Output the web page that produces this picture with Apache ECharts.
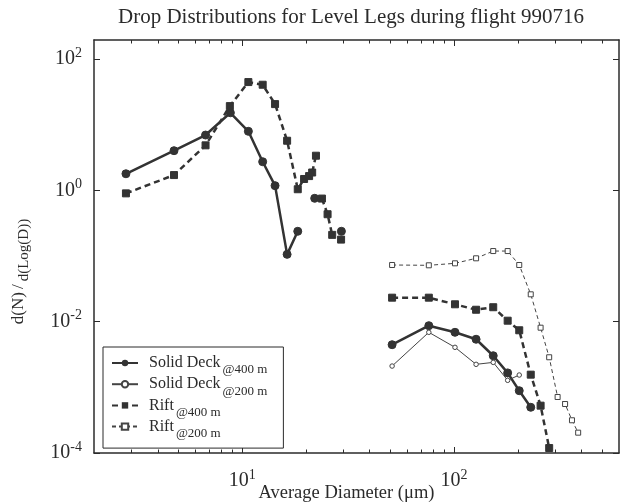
<!DOCTYPE html>
<html><head><meta charset="utf-8">
<script src="https://cdn.jsdelivr.net/npm/echarts@6/dist/echarts.min.js"></script>
<style>html,body{margin:0;padding:0;background:#fff}#c{width:621px;height:502px}</style>
</head><body><div id="c"></div>
<script>
// ---- data (null = gap in the line) ----
const sd400X = [2.83,4.77,6.72,8.80,10.7,12.5,14.3,16.3,18.3,20,22.0,26,29.4,40,51,76,101,127,153,179,203,230];
const sd400Y = [1.79,4.02,6.96,15.2,7.93,2.73,1.18,0.106,0.238,null,0.757,null,0.238,null,0.00446,0.00869,0.00689,0.00540,0.00303,0.00166,0.000889,0.000497];
const sd200X = [51,76,101,127,153,179,203];
const sd200Y = [0.00211,0.00689,0.00407,0.00224,0.00240,0.00128,0.00154];
const rf400X = [2.83,4.77,6.72,8.75,10.7,12.5,14.3,16.3,18.3,19.6,20.7,21.4,22.3,23,23.8,25.3,26.6,28,29.3,40,51,76,101,127,153,179,203,230,256,281];
const rf400Y = [0.90,1.71,4.85,19.2,44.6,40.6,20.6,5.70,1.04,1.49,1.65,1.87,3.37,null,0.75,0.433,0.210,null,0.178,null,0.0232,0.0232,0.0184,0.0152,0.0166,0.01035,0.0074,0.00156,0.000526,0.000119];
const rf200X = [51,76,101,127,153,179,203,230,256,281,308,334,360,385];
const rf200Y = [0.0730,0.0722,0.0774,0.0923,0.119,0.119,0.0730,0.0261,0.00810,0.00287,0.000713,0.000557,0.000315,0.000204];
const seriesNames = ['Solid Deck@400 m','Solid Deck@200 m','Rift@400 m','Rift@200 m'];
const xMajorTicks = [10,100];
const xMinorTicks = [3,4,5,6,7,8,9,20,30,40,50,60,70,80,90,200,300,400,500];
const yMajorTicks = [1e-4,1e-2,1,100];
const titleText = 'Drop Distributions for Level Legs during flight 990716';
const xName = 'Average Diameter (\u03bcm)';

const pair = (xs, ys) => xs.map((x, i) => [x, ys[i] === null ? '-' : ys[i]]);
const FONT = '"Liberation Serif","Times New Roman",serif';
const INK = '#2b2b2b';

const chart = echarts.init(document.getElementById('c'), null, {renderer: 'canvas'});
const supFmt = v => '{b|10}{s|' + Math.round(Math.log10(v)) + '}';
const baseX = {type: 'log', logBase: 10, min: 2, max: 600, gridIndex: 0,
  splitLine: {show: false}, minorTick: {show: false}};
const baseY = {type: 'log', logBase: 10, min: 1e-4, max: 195, gridIndex: 0,
  splitLine: {show: false}, minorTick: {show: false}};

chart.setOption({
  animation: false,
  backgroundColor: '#fff',
  title: {text: titleText, left: 113, top: 2,
    textStyle: {fontFamily: FONT, fontSize: 21, fontWeight: 'normal', color: INK}},
  grid: {left: 94, top: 40, width: 525, height: 413, containLabel: false, outerBoundsMode: 'none'},
  legend: {
    orient: 'vertical', left: 103, top: 347, itemWidth: 26, itemHeight: 8, itemGap: -0.3,
    padding: [8, 16, 8, 8], borderColor: INK, borderWidth: 1, backgroundColor: '#fff',
    data: seriesNames,
    formatter: n => { const i = n.indexOf('@'); return '{a|' + n.slice(0, i) + '}{s|' + n.slice(i) + '}'; },
    textStyle: {fontFamily: FONT, color: INK,
      rich: {a: {fontFamily: FONT, fontSize: 16, color: INK, padding: [0, 0, 0, 6]},
             s: {fontFamily: FONT, fontSize: 13, color: INK, padding: [14, 0, 0, 2]}}}
  },
  xAxis: [
    Object.assign({}, baseX, {position: 'bottom',
      name: xName, nameLocation: 'middle', nameGap: 31, nameMoveOverlap: false,
      nameTextStyle: {fontFamily: FONT, fontSize: 18.5, color: INK, padding: [0, 20, 0, 0]},
      axisLine: {show: true, lineStyle: {color: INK, width: 1.5}},
      axisTick: {show: true, inside: true, length: 6, customValues: xMajorTicks, lineStyle: {color: INK}},
      axisLabel: {show: true, customValues: xMajorTicks, margin: 15, formatter: supFmt,
        rich: {b: {fontFamily: FONT, fontSize: 20, color: INK}, s: {fontFamily: FONT, fontSize: 14, color: INK, padding: [0, 0, 12, 0]}}}}),
    Object.assign({}, baseX, {position: 'bottom',
      axisLine: {show: false}, axisLabel: {show: false},
      axisTick: {show: true, inside: true, length: 3.5, customValues: xMinorTicks, lineStyle: {color: INK}}}),
    Object.assign({}, baseX, {position: 'top',
      axisLine: {show: true, lineStyle: {color: INK, width: 1.5}}, axisLabel: {show: false},
      axisTick: {show: true, inside: true, length: 6, customValues: xMajorTicks, lineStyle: {color: INK}}}),
    Object.assign({}, baseX, {position: 'top',
      axisLine: {show: false}, axisLabel: {show: false},
      axisTick: {show: true, inside: true, length: 3.5, customValues: xMinorTicks, lineStyle: {color: INK}}})
  ],
  yAxis: [
    Object.assign({}, baseY, {position: 'left',
      name: '{n|d(N)} {n|/} {d|d(Log(D))}', nameLocation: 'middle', nameGap: 62, nameMoveOverlap: false,
      nameTextStyle: {fontFamily: FONT, color: INK, padding: [0, 50, 0, 0],
        rich: {n: {fontFamily: FONT, fontSize: 17, color: INK}, d: {fontFamily: FONT, fontSize: 15, color: INK, padding: [12, 0, 0, 0]}}},
      axisLine: {show: true, lineStyle: {color: INK, width: 1.5}},
      axisTick: {show: true, inside: true, length: 6, customValues: yMajorTicks, lineStyle: {color: INK}},
      axisLabel: {show: true, customValues: yMajorTicks, margin: 12, formatter: supFmt,
        rich: {b: {fontFamily: FONT, fontSize: 20, color: INK}, s: {fontFamily: FONT, fontSize: 14, color: INK, padding: [0, 0, 12, 0]}}}}),
    Object.assign({}, baseY, {position: 'right',
      axisLine: {show: true, lineStyle: {color: INK, width: 1.5}}, axisLabel: {show: false},
      axisTick: {show: true, inside: true, length: 6, customValues: yMajorTicks, lineStyle: {color: INK}}})
  ],
  series: [
    {name: seriesNames[0], type: 'line', xAxisIndex: 0, yAxisIndex: 0, data: pair(sd400X, sd400Y),
      connectNulls: false, symbol: 'circle', symbolSize: 8, showAllSymbol: true,
      lineStyle: {color: '#333', width: 2.5, type: 'solid'}, itemStyle: {color: '#333', borderColor: '#333'}},
    {name: seriesNames[1], type: 'line', xAxisIndex: 0, yAxisIndex: 0, data: pair(sd200X, sd200Y),
      symbol: 'circle', symbolSize: 4.5, showAllSymbol: true,
      lineStyle: {color: '#444', width: 1, type: 'solid'}, itemStyle: {color: '#fff', borderColor: '#444', borderWidth: 1}},
    {name: seriesNames[2], type: 'line', xAxisIndex: 0, yAxisIndex: 0, data: pair(rf400X, rf400Y),
      connectNulls: false, symbol: 'rect', symbolSize: 7, showAllSymbol: true,
      lineStyle: {color: '#333', width: 2.5, type: [6, 4]}, itemStyle: {color: '#333', borderColor: '#333'}},
    {name: seriesNames[3], type: 'line', xAxisIndex: 0, yAxisIndex: 0, data: pair(rf200X, rf200Y),
      symbol: 'rect', symbolSize: 5, showAllSymbol: true,
      lineStyle: {color: '#444', width: 1, type: [4, 3]}, itemStyle: {color: '#fff', borderColor: '#444', borderWidth: 1}}
  ]
});
</script>
</body></html>
